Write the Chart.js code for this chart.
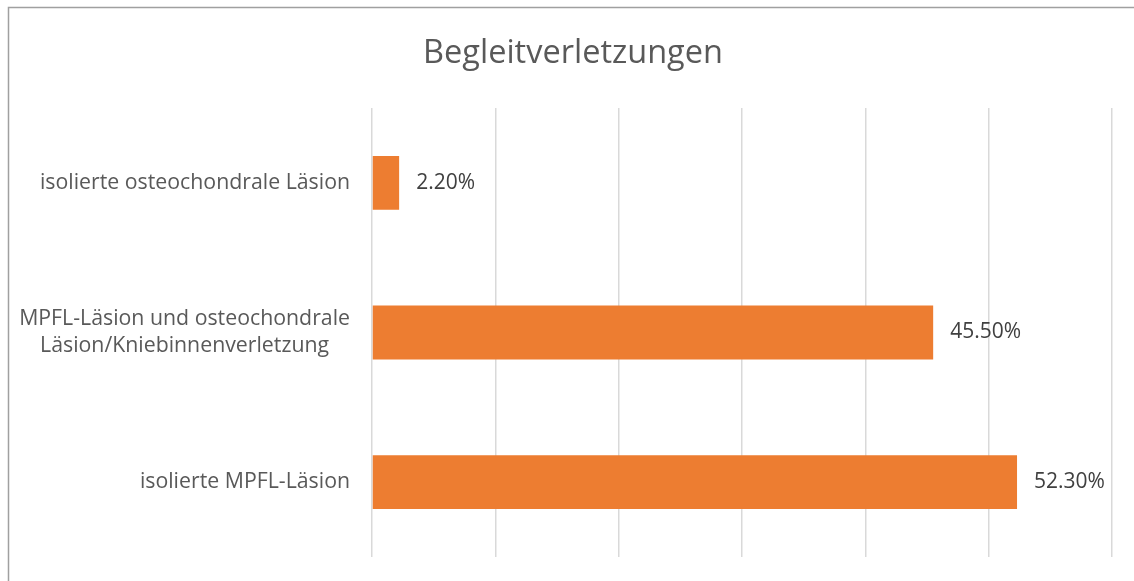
<!DOCTYPE html>
<html>
<head>
<meta charset="utf-8">
<script src="https://cdn.jsdelivr.net/npm/chart.js@4"></script>
<style>
  html, body { margin: 0; padding: 0; background: #fff; }
  #wrap { position: relative; width: 1134px; height: 581px; }
</style>
</head>
<body>
<div id="wrap"><canvas id="verletzungen"></canvas></div>
<script>
const categories = [
    ['isolierte osteochondrale Läsion'],
    ['MPFL-Läsion und osteochondrale', 'Läsion/Kniebinnenverletzung'],
    ['isolierte MPFL-Läsion']
];
const percentValues = [2.2, 45.5, 52.3];
const chartTitle = 'Begleitverletzungen';

const FONT = '"Open Sans", Lato, sans-serif';

// grey frame around the chart, like the office export
const framePlugin = {
    id: 'frame',
    beforeDraw(chart) {
        const ctx = chart.ctx;
        ctx.save();
        ctx.strokeStyle = '#a0a0a0';
        ctx.lineWidth = 1.5;
        ctx.beginPath();
        ctx.moveTo(8.5, chart.height + 2);
        ctx.lineTo(8.5, 7.5);
        ctx.lineTo(chart.width + 2, 7.5);
        ctx.stroke();
        ctx.restore();
    }
};

// category labels: block right aligned, lines centered inside the block
const categoryLabelPlugin = {
    id: 'categoryLabels',
    afterDraw(chart) {
        const ctx = chart.ctx;
        const yScale = chart.scales.y;
        const right = chart.chartArea.left - 22;
        const lineH = 27;
        ctx.save();
        ctx.font = '21.3px ' + FONT;
        ctx.fillStyle = '#595959';
        ctx.textAlign = 'center';
        ctx.textBaseline = 'middle';
        categories.forEach((lines, i) => {
            const yMid = yScale.getPixelForValue(i);
            const widest = Math.max(...lines.map(l => ctx.measureText(l).width));
            const cx = right - widest / 2;
            const startY = yMid - (lines.length - 1) * lineH / 2;
            lines.forEach((line, j) => {
                ctx.fillText(line, cx, startY + j * lineH);
            });
        });
        ctx.restore();
    }
};

// value labels at the end of each bar
const valueLabelPlugin = {
    id: 'valueLabels',
    afterDatasetsDraw(chart) {
        const ctx = chart.ctx;
        const meta = chart.getDatasetMeta(0);
        ctx.save();
        ctx.font = '21px ' + FONT;
        ctx.fillStyle = '#404040';
        ctx.textAlign = 'left';
        ctx.textBaseline = 'middle';
        meta.data.forEach((bar, i) => {
            ctx.fillText(percentValues[i].toFixed(2) + '%', bar.x + 17, bar.y);
        });
        ctx.restore();
    }
};

const ctx = document.getElementById('verletzungen').getContext('2d');
let verletzungenChart = new Chart(ctx, {
    type: 'bar',
    data: {
        labels: categories,
        datasets: [{
            label: chartTitle,
            data: percentValues,
            backgroundColor: '#ED7D31',
            borderWidth: 0,
            categoryPercentage: 1,
            barPercentage: 0.36
        }]
    },
    options: {
        indexAxis: 'y',
        responsive: true,
        maintainAspectRatio: false,
        animation: false,
        layout: { padding: { left: 12, right: 0, top: 0, bottom: 24 } },
        plugins: {
            legend: { display: false },
            tooltip: { enabled: false },
            title: {
                display: true,
                text: chartTitle,
                color: '#595959',
                font: { family: FONT, size: 32.5, weight: 'normal' },
                padding: { top: 34, bottom: 35 }
            }
        },
        scales: {
            x: {
                min: 0,
                max: 60,
                ticks: { display: false, stepSize: 10 },
                grid: { color: '#d9d9d9', lineWidth: 1.5, drawTicks: false },
                border: { display: false }
            },
            y: {
                ticks: { display: false },
                grid: { display: false },
                border: { display: false },
                afterFit(scale) { scale.width = 360; }
            },
            y2: {
                type: 'linear',
                position: 'right',
                display: true,
                ticks: { display: false },
                grid: { display: false },
                border: { display: false },
                afterFit(scale) { scale.width = 22; }
            }
        }
    },
    plugins: [framePlugin, categoryLabelPlugin, valueLabelPlugin]
});
</script>
</body>
</html>
